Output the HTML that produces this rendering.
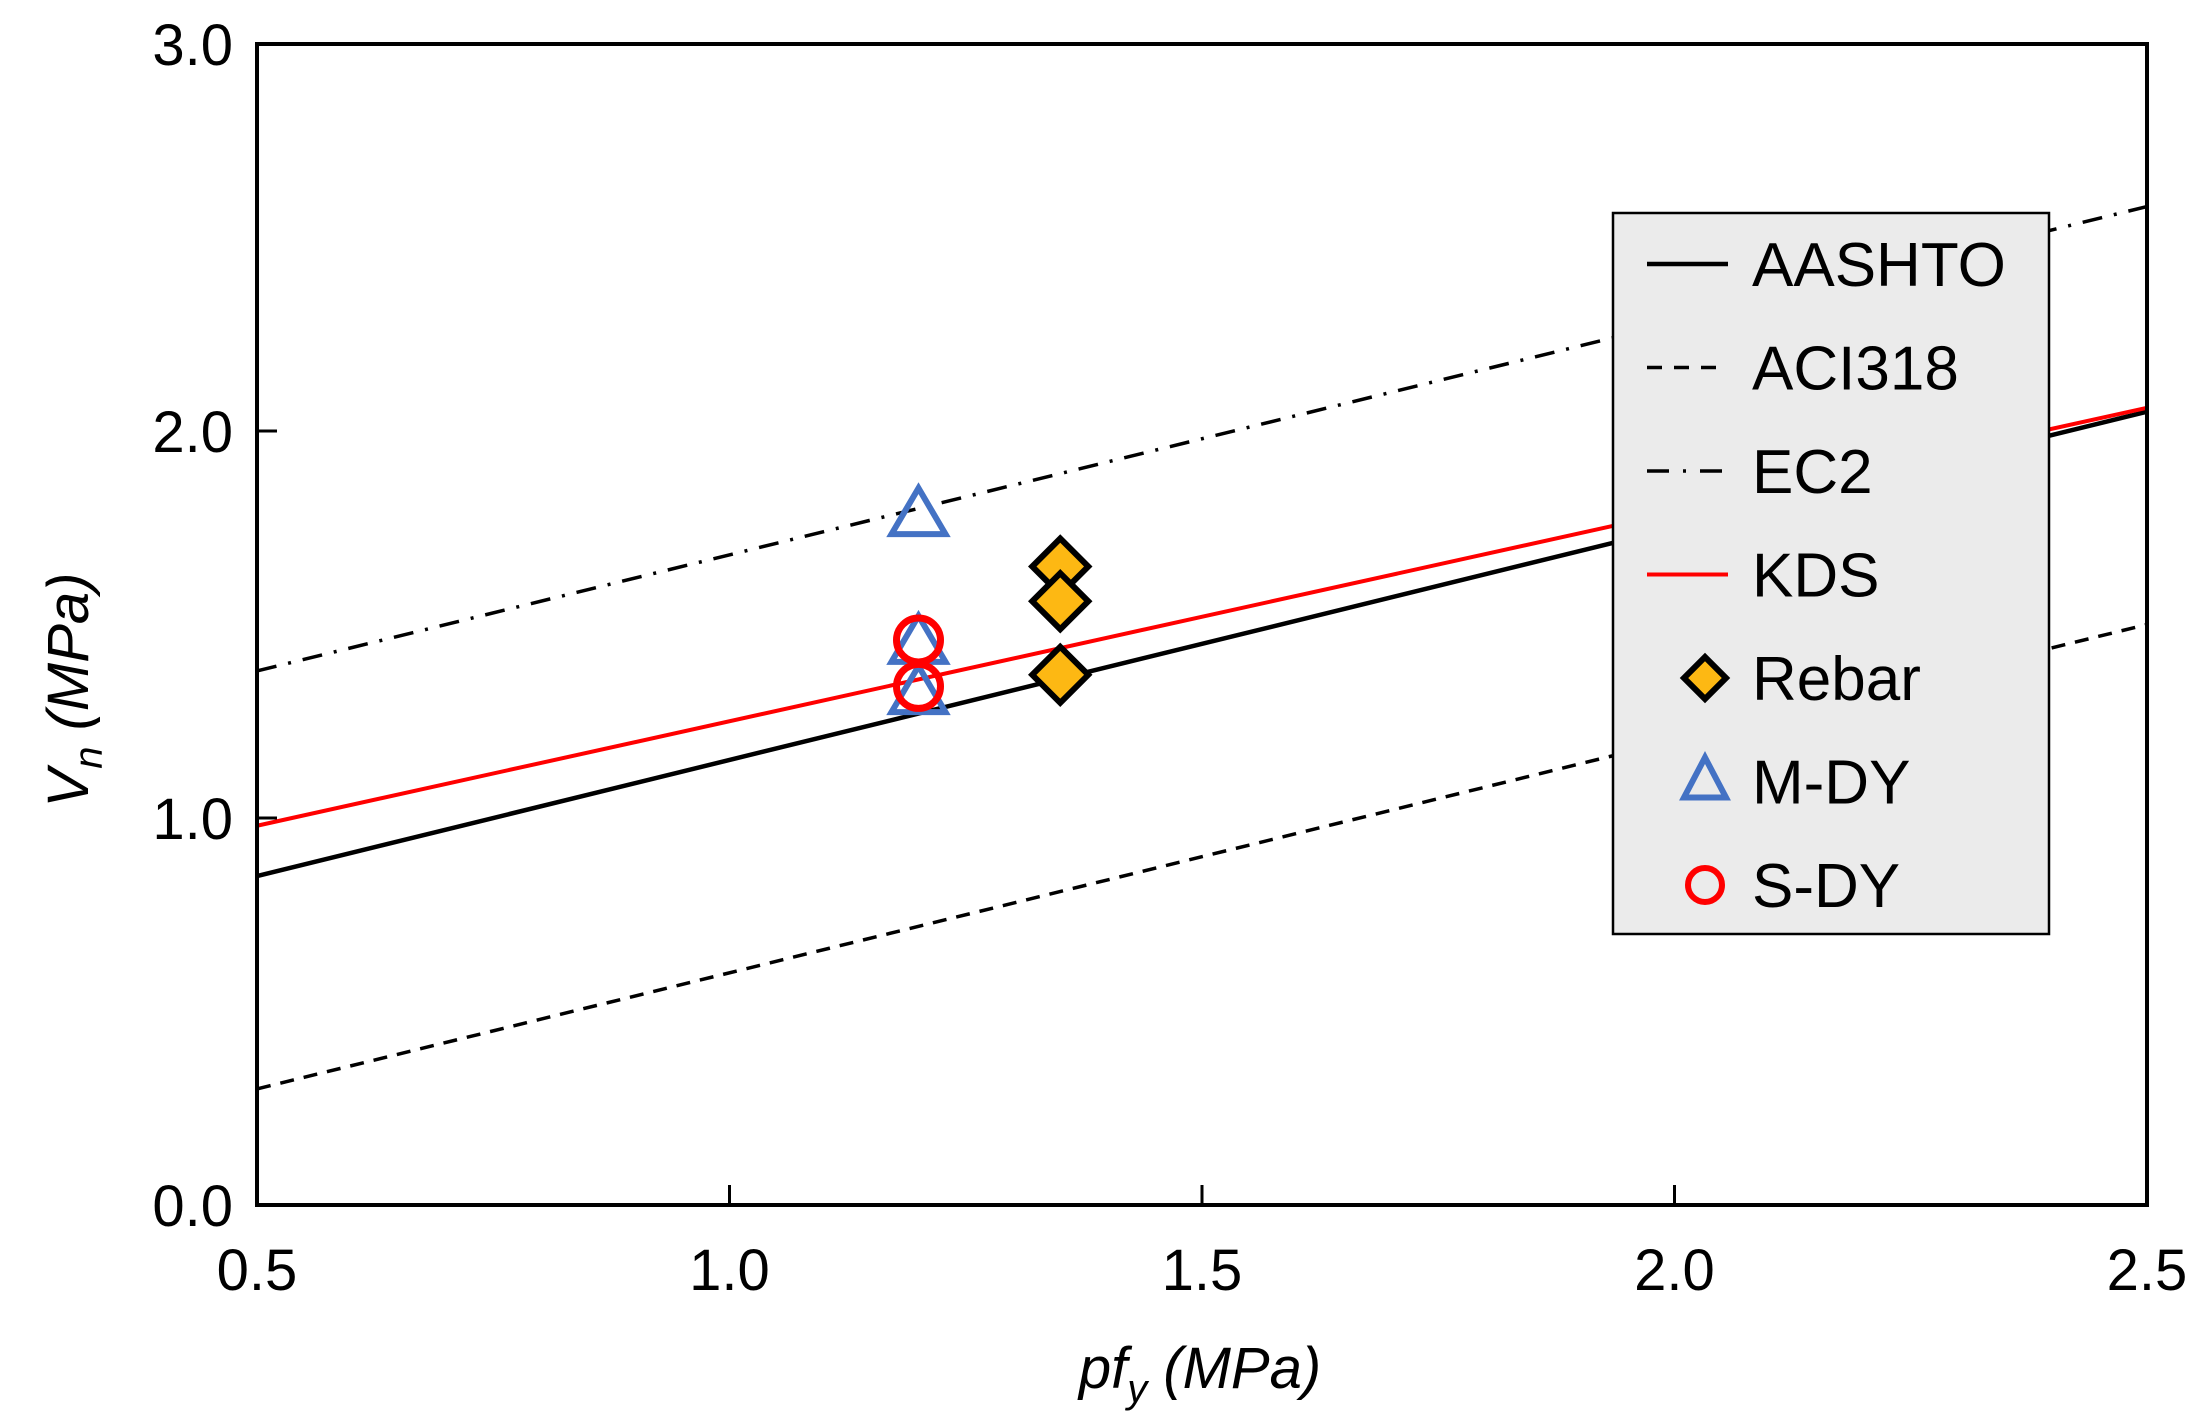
<!DOCTYPE html>
<html><head><meta charset="utf-8"><style>
html,body{margin:0;padding:0;background:#fff;}
svg{display:block;font-family:"Liberation Sans",Arial,sans-serif;}
</style></head><body>
<svg id="chart" width="2192" height="1425" viewBox="0 0 2192 1425" xmlns="http://www.w3.org/2000/svg">
<g id="lines"></g>
<g id="marks"></g>
<g id="axes"></g>
<g id="legend"></g>
<text x="1200" y="1388" font-size="58" font-style="italic" text-anchor="middle">pf<tspan font-size="40" dy="14">y</tspan><tspan dy="-14"> (MPa)</tspan></text>
<text transform="translate(88,690) rotate(-90)" font-size="58" font-style="italic" text-anchor="middle">V<tspan font-size="40" dy="14">n</tspan><tspan dy="-14"> (MPa)</tspan></text>
</svg>
<script>
const xTicks=[0.5,1.0,1.5,2.0,2.5];
const yTicks=[0.0,1.0,2.0,3.0];
const lineNames=["AASHTO","ACI318","EC2","KDS"];
const lineX=[0.5,2.5];
const aashtoY=[0.85,2.05];
const aci318Y=[0.30,1.50];
const ec2Y=[1.38,2.58];
const kdsY=[0.98,2.06];
const rebarX=[1.35,1.35,1.35];
const rebarY=[1.65,1.56,1.37];
const mdyX=[1.2,1.2,1.2];
const mdyY=[1.78,1.45,1.32];
const sdyX=[1.2,1.2];
const sdyY=[1.46,1.34];

const NS="http://www.w3.org/2000/svg";
const L=257,R=2147,T=44,B=1205;
const sx=v=>L+(v-0.5)/2*(R-L);
const sy=v=>B-v/3*(B-T);
function mk(tag,attrs,parent){const e=document.createElementNS(NS,tag);for(const k in attrs)e.setAttribute(k,attrs[k]);parent.appendChild(e);return e;}
const gl=document.getElementById('lines'),gm=document.getElementById('marks'),ga=document.getElementById('axes'),gleg=document.getElementById('legend');
const styles={AASHTO:{stroke:"#000",w:4.5,dash:""},ACI318:{stroke:"#000",w:3.5,dash:"14 10"},EC2:{stroke:"#000",w:3.5,dash:"20 12 3 12"},KDS:{stroke:"#f00",w:4,dash:""}};
const ys={AASHTO:aashtoY,ACI318:aci318Y,EC2:ec2Y,KDS:kdsY};
lineNames.forEach(n=>{
  const s=styles[n];
  const el=mk('line',{x1:sx(lineX[0]),y1:sy(ys[n][0]),x2:sx(lineX[1]),y2:sy(ys[n][1]),stroke:s.stroke,'stroke-width':s.w,'stroke-dasharray':s.dash},gl);
  
  
});
function tri(x,y,p){return mk('polygon',{points:`${x},${y-28} ${x+27},${y+18} ${x-27},${y+18}`,fill:"none",stroke:"#4472c4","stroke-width":6,"stroke-linejoin":"miter"},p);}
function dia(x,y,p){return mk('polygon',{points:`${x},${y-28} ${x+28},${y} ${x},${y+28} ${x-28},${y}`,fill:"#fdb813",stroke:"#000","stroke-width":6},p);}
function circ(x,y,p){return mk('circle',{cx:x,cy:y,r:22,fill:"none",stroke:"#f00","stroke-width":7},p);}
mdyX.forEach((v,i)=>{const e=tri(sx(v),sy(mdyY[i]),gm);
  
  });
rebarX.forEach((v,i)=>{const e=dia(sx(v),sy(rebarY[i]),gm);
  
  });
sdyX.forEach((v,i)=>{const e=circ(sx(v),sy(sdyY[i]),gm);
  
  });
const fr=mk('rect',{x:L,y:T,width:R-L,height:B-T,fill:"none",stroke:"#000","stroke-width":4},ga);


xTicks.forEach(v=>{
  const x=sx(v);
  if(v>0.5&&v<2.5){const t=mk('line',{x1:x,y1:B,x2:x,y2:B-20,stroke:"#000","stroke-width":3},ga);
    
    }
  const lb=mk('text',{x:x,y:1290,'font-size':58,'text-anchor':'middle'},ga);lb.textContent=v.toFixed(1);
  
  
});
yTicks.forEach(v=>{
  const y=sy(v);
  if(v>0&&v<3){const t=mk('line',{x1:L,y1:y,x2:L+20,y2:y,stroke:"#000","stroke-width":3},ga);
    
    }
  const lb=mk('text',{x:233,y:y+21,'font-size':58,'text-anchor':'end'},ga);lb.textContent=v.toFixed(1);
  
  
});
const lb=mk('rect',{x:1613,y:213,width:436,height:721,fill:"#ebebeb",stroke:"#000","stroke-width":2.5},gleg);


const legNames=["AASHTO","ACI318","EC2","KDS","Rebar","M-DY","S-DY"];
legNames.forEach((n,i)=>{
  const y=264+i*103.5;
  const g=mk('g',{},gleg);
  
  
  if(styles[n]){const s=styles[n];mk('line',{x1:1647,y1:y,x2:1728,y2:y,stroke:s.stroke,'stroke-width':s.w,'stroke-dasharray':n==="ACI318"?"15 12":(n==="EC2"?"22 14 3 14":"")},g);}
  else if(n==="Rebar"){mk('polygon',{points:`1705,${y-21} 1726,${y} 1705,${y+21} 1684,${y}`,fill:"#fdb813",stroke:"#000","stroke-width":6},g);}
  else if(n==="M-DY"){mk('polygon',{points:`1705,${y-24} 1726,${y+16} 1684,${y+16}`,fill:"none",stroke:"#4472c4","stroke-width":6},g);}
  else {mk('circle',{cx:1705,cy:y,r:17,fill:"none",stroke:"#f00","stroke-width":6},g);}
  const t=mk('text',{x:1752,y:y+22,'font-size':62},g);t.textContent=n;
});
</script>
</body></html>
